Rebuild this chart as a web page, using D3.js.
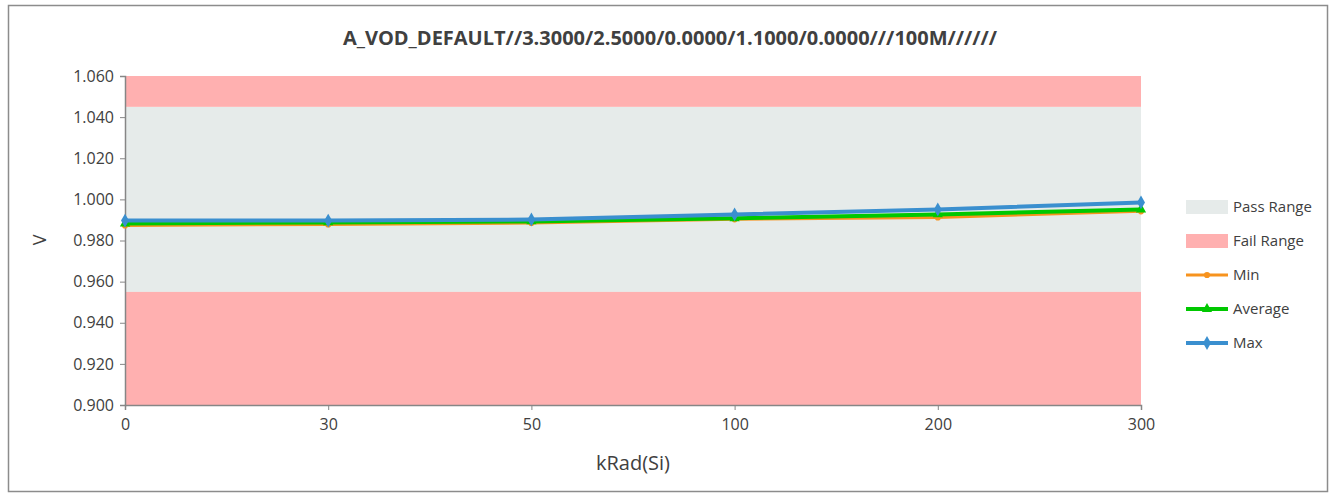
<!DOCTYPE html>
<html>
<head>
<meta charset="utf-8">
<script src="https://cdn.jsdelivr.net/npm/d3@7"></script>
<style>
  html, body { margin: 0; padding: 0; background: #fff; }
  svg { display: block; }
  text { font-family: "Open Sans", "Noto Sans", sans-serif; fill: #404040; }
</style>
</head>
<body>
<svg id="chart" width="1336" height="497"></svg>
<script>
const titleText = "A_VOD_DEFAULT//3.3000/2.5000/0.0000/1.1000/0.0000///100M//////";
const categories = ["0", "30", "50", "100", "200", "300"];
const minValues = [0.9873, 0.9878, 0.9885, 0.9903, 0.9912, 0.9942];
const avgValues = [0.9883, 0.9888, 0.9893, 0.9908, 0.9927, 0.9951];
const maxValues = [0.9897, 0.9897, 0.9902, 0.9927, 0.9951, 0.9985];
const yTicks = [0.900, 0.920, 0.940, 0.960, 0.980, 1.000, 1.020, 1.040, 1.060];
const yDomain = [0.900, 1.060];
const passRange = [0.955, 1.045];
const failRanges = [[0.900, 0.955], [1.045, 1.060]];
const legendLabels = ["Pass Range", "Fail Range", "Min", "Average", "Max"];

const svg = d3.select("#chart");
const m = { left: 125, right: 1141, top: 76, bottom: 405 };

// outer frame
svg.append("rect").attr("x", 8.5).attr("y", 5.5).attr("width", 1319).attr("height", 486)
  .attr("fill", "#fff").attr("stroke", "#8c8c8c").attr("stroke-width", 1.5);

const x = d3.scalePoint().domain(categories).range([m.left, m.right]).padding(0);
const y = d3.scaleLinear().domain(yDomain).range([m.bottom, m.top]);

// bands
svg.append("rect").attr("x", m.left).attr("width", m.right - m.left)
  .attr("y", y(passRange[1])).attr("height", y(passRange[0]) - y(passRange[1]))
  .attr("fill", "#e6ebea");
svg.selectAll(".fail").data(failRanges).join("rect").attr("class", "fail")
  .attr("x", m.left).attr("width", m.right - m.left)
  .attr("y", d => y(d[1])).attr("height", d => y(d[0]) - y(d[1]))
  .attr("fill", "#ffb0b0");

// axes
const yAxis = d3.axisLeft(y).tickValues(yTicks).tickFormat(d3.format(".3f")).tickSize(5).tickPadding(6);
const gy = svg.append("g").attr("transform", `translate(${m.left},0)`).call(yAxis);
gy.select(".domain").attr("stroke", "#868686").attr("stroke-width", 1.5);
gy.selectAll(".tick line").attr("stroke", "#868686");
gy.selectAll(".tick text").style("font-size", "16px").attr("fill", "#404040");

const xAxis = d3.axisBottom(x).tickSize(5).tickPadding(9);
const gx = svg.append("g").attr("transform", `translate(0,${m.bottom})`).call(xAxis);
gx.select(".domain").attr("stroke", "#868686").attr("stroke-width", 1.5);
gx.selectAll(".tick line").attr("stroke", "#868686");
gx.selectAll(".tick text").style("font-size", "16px").attr("fill", "#404040");

// series
const series = [
  { name: "Min", values: minValues, color: "#f7931e", width: 3, marker: "circle", size: 30 },
  { name: "Average", values: avgValues, color: "#00c800", width: 4, marker: "triangle", size: 45 },
  { name: "Max", values: maxValues, color: "#3a8fcf", width: 4, marker: "diamond", size: 55 }
];
const line = d3.line().x((d, i) => x(categories[i])).y(d => y(d));
const symbolOf = { circle: d3.symbolCircle, triangle: d3.symbolTriangle, diamond: d3.symbolDiamond };

series.forEach(s => {
  svg.append("path").datum(s.values).attr("d", line)
    .attr("fill", "none").attr("stroke", s.color).attr("stroke-width", s.width)
    .attr("stroke-linejoin", "round");
  svg.selectAll(null).data(s.values).join("path")
    .attr("transform", (d, i) => `translate(${x(categories[i])},${y(d)})`)
    .attr("d", d3.symbol().type(symbolOf[s.marker]).size(s.size))
    .attr("fill", s.color);
});

// title
svg.append("text").attr("x", 670).attr("y", 45).attr("text-anchor", "middle")
  .style("font-size", "20px").style("font-weight", "bold").attr("fill", "#000")
  .text(titleText);

// axis labels
svg.append("text").attr("transform", "translate(46,240) rotate(-90)").attr("text-anchor", "middle")
  .style("font-size", "18px").attr("fill", "#404040").text("V");
svg.append("text").attr("x", 633).attr("y", 470).attr("text-anchor", "middle")
  .style("font-size", "20px").attr("fill", "#404040").text("kRad(Si)");

// legend
const lg = svg.append("g");
const ly0 = 207, ldy = 34, lx = 1186, lw = 42;
legendLabels.forEach((lab, i) => {
  const cy = ly0 + i * ldy;
  if (i === 0) {
    lg.append("rect").attr("x", lx).attr("y", cy - 7).attr("width", lw).attr("height", 14).attr("fill", "#e6ebea");
  } else if (i === 1) {
    lg.append("rect").attr("x", lx).attr("y", cy - 7).attr("width", lw).attr("height", 14).attr("fill", "#ffb0b0");
  } else {
    const s = series[i - 2];
    lg.append("line").attr("x1", lx).attr("x2", lx + lw).attr("y1", cy).attr("y2", cy)
      .attr("stroke", s.color).attr("stroke-width", s.width);
    lg.append("path").attr("transform", `translate(${lx + lw / 2},${cy})`)
      .attr("d", d3.symbol().type(symbolOf[s.marker]).size(s.size))
      .attr("fill", s.color);
  }
  lg.append("text").attr("x", lx + lw + 5).attr("y", cy + 5)
    .style("font-size", "15px").attr("fill", "#404040").text(lab);
});
</script>
</body>
</html>
